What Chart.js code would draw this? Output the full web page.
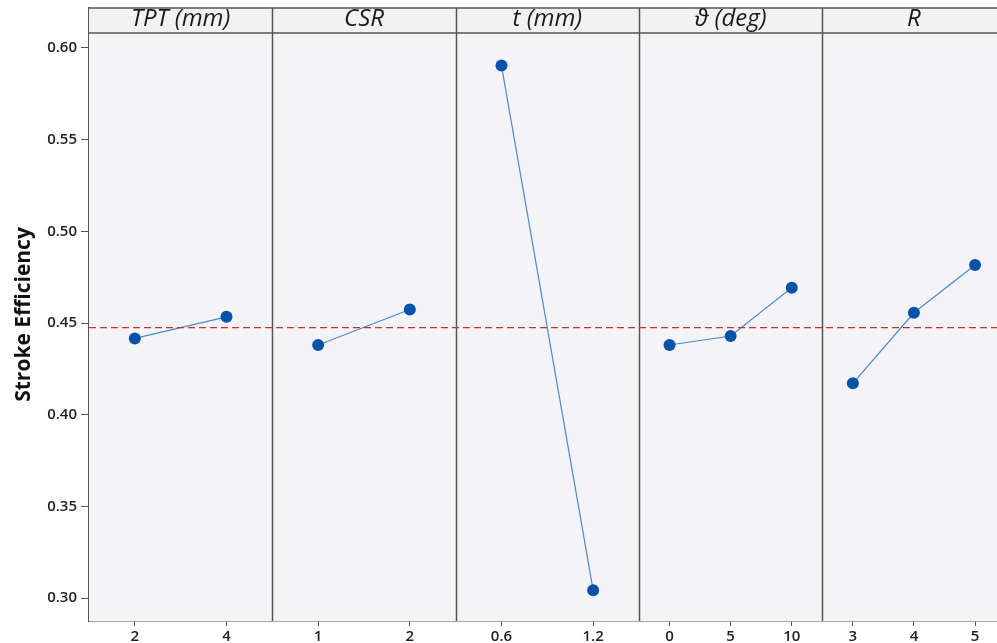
<!DOCTYPE html>
<html>
<head>
<meta charset="utf-8">
<script src="https://cdn.jsdelivr.net/npm/chart.js@4"></script>
<style>
  html, body { margin: 0; padding: 0; background: #fff; overflow: hidden; }
  #wrap { width: 997px; height: 643px; }
</style>
</head>
<body>
<div id="wrap"><canvas id="mainEffects"></canvas></div>
<script>
// === data ===
const factors = ['TPT (mm)', 'CSR', 't (mm)', 'ϑ (deg)', 'R'];
const tptLevels = ['2', '4'];
const csrLevels = ['1', '2'];
const tLevels = ['0.6', '1.2'];
const thetaLevels = ['0', '5', '10'];
const rLevels = ['3', '4', '5'];

const tptMeans = [0.4416, 0.4534];
const csrMeans = [0.4380, 0.4574];
const tMeans = [0.5904, 0.3043];
const thetaMeans = [0.4380, 0.4429, 0.4692];
const rMeans = [0.4171, 0.4556, 0.4816];

const grandMean = 0.4475;
const yTicks = [0.30, 0.35, 0.40, 0.45, 0.50, 0.55, 0.60];

// === build points: each factor gets one unit of x, levels sit at (j+0.5)/n ===
const levelSets = [tptLevels, csrLevels, tLevels, thetaLevels, rLevels];
const meanSets = [tptMeans, csrMeans, tMeans, thetaMeans, rMeans];
const X_MAX = 4.953;   // last panel runs a little past the right edge
const HEADER_H = 25;

const tickPos = [];
const tickText = {};
const datasets = meanSets.map((means, i) => {
  const n = means.length;
  const pts = means.map((v, j) => {
    const x = i + (j + 0.5) / n;
    tickPos.push(x);
    tickText[x.toFixed(4)] = levelSets[i][j];
    return { x: x, y: v };
  });
  return {
    label: factors[i],
    data: pts,
    borderColor: '#4a8ad4',
    borderWidth: 1.2,
    pointBackgroundColor: '#0a52a8',
    pointBorderWidth: 0,
    pointRadius: 6,
    tension: 0
  };
});

datasets.unshift({
  label: 'Mean',
  data: [{ x: 0, y: grandMean }, { x: X_MAX, y: grandMean }],
  borderColor: '#c9302c',
  borderWidth: 1.3,
  borderDash: [7, 4],
  pointRadius: 0
});

// === panel background, header strip, dividers ===
const panelPlugin = {
  id: 'panels',
  beforeDatasetsDraw(chart) {
    const { ctx, chartArea: a, scales } = chart;
    ctx.save();
    ctx.fillStyle = '#f4f4f6';
    ctx.fillRect(a.left, a.top, a.right - a.left, a.bottom - a.top);
    ctx.fillStyle = '#f2f2f3';
    ctx.fillRect(a.left, a.top, a.right - a.left, HEADER_H);

    ctx.strokeStyle = '#555';
    ctx.lineWidth = 1.5;
    ctx.beginPath();
    ctx.moveTo(a.left, a.top);
    ctx.lineTo(a.right, a.top);
    ctx.moveTo(a.left, a.top + HEADER_H);
    ctx.lineTo(a.right, a.top + HEADER_H);
    for (let i = 1; i < factors.length; i++) {
      const px = Math.round(scales.x.getPixelForValue(i)) + 0.5;
      ctx.moveTo(px, a.top);
      ctx.lineTo(px, a.bottom);
    }
    ctx.stroke();

    ctx.fillStyle = '#1a1a1a';
    ctx.font = 'italic 24px "Open Sans"';
    ctx.textAlign = 'center';
    ctx.textBaseline = 'alphabetic';
    factors.forEach((f, i) => {
      const cx = scales.x.getPixelForValue(i + 0.5);
      ctx.fillText(f, cx, a.top + 18);
    });
    ctx.restore();
  }
};

const ctx = document.getElementById('mainEffects');
new Chart(ctx, {
  type: 'line',
  data: { datasets: datasets },
  plugins: [panelPlugin],
  options: {
    responsive: true,
    maintainAspectRatio: false,
    animation: false,
    layout: { autoPadding: false, padding: { top: 8, right: 0, bottom: 0, left: 0 } },
    plugins: {
      legend: { display: false },
      tooltip: { enabled: false }
    },
    scales: {
      x: {
        type: 'linear',
        min: 0,
        max: X_MAX,
        afterFit(s) { s.height = 22; s.paddingLeft = 0; s.paddingRight = 0; },
        afterBuildTicks(s) { s.ticks = tickPos.map(v => ({ value: v })); },
        grid: { drawOnChartArea: false, drawTicks: true, tickLength: 5, color: '#555' },
        border: { display: true, color: '#555', width: 1.5 },
        ticks: {
          autoSkip: false,
          maxRotation: 0,
          padding: 2,
          color: '#222',
          font: { family: 'Open Sans', size: 15, weight: '600' },
          callback: v => tickText[Number(v).toFixed(4)] || ''
        }
      },
      y: {
        type: 'linear',
        min: 0.2875,
        max: 0.6218,
        afterFit(s) { s.width = 89; s.paddingTop = 0; s.paddingBottom = 0; },
        afterBuildTicks(s) { s.ticks = yTicks.map(v => ({ value: v })); },
        grid: { drawOnChartArea: false, drawTicks: true, tickLength: 8, color: '#555' },
        border: { display: true, color: '#555', width: 1.5 },
        ticks: {
          padding: 4,
          color: '#222',
          font: { family: 'Open Sans', size: 15, weight: '600' },
          callback: v => Number(v).toFixed(2)
        },
        title: {
          display: true,
          text: 'Stroke Efficiency',
          color: '#111',
          padding: { top: 11, bottom: 0 },
          font: { family: 'Open Sans', size: 21, weight: 'bold' }
        }
      }
    }
  }
});
</script>
</body>
</html>
